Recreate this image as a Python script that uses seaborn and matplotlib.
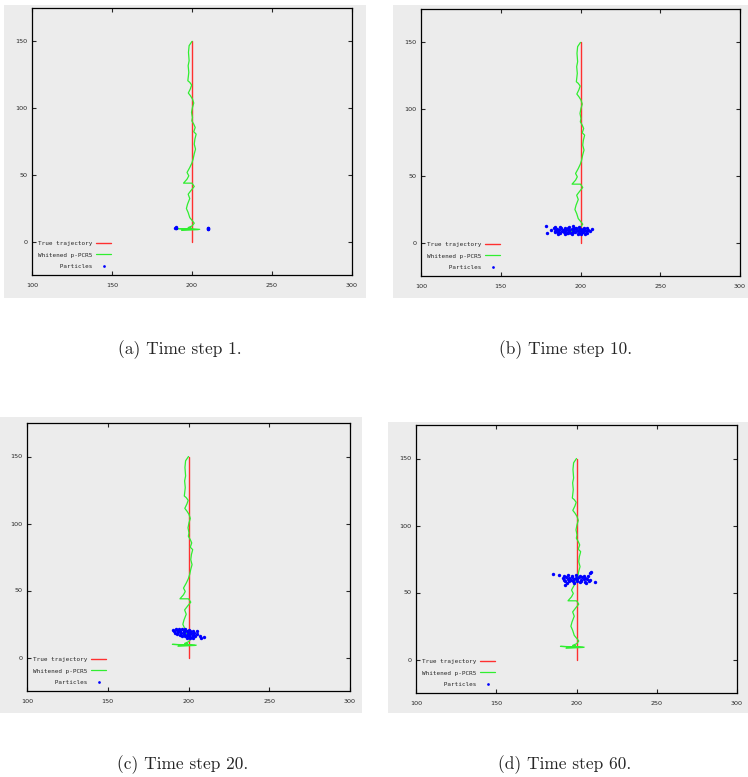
import seaborn as sns
import matplotlib.pyplot as plt
from matplotlib.patches import Rectangle

# true trajectory (straight vertical walk)
true_x = [200, 200]
true_y = [0, 150]

# whitened p-PCR5 estimate, read bottom to top
est_x = [204.8, 190.0, 204.0, 193.5, 199.5, 197.6, 200.1, 201.4, 200.3, 198.6,
         197.6, 196.5, 197.2, 198.6, 197.6, 199.7, 201.4, 200.0, 194.7, 196.9,
         198.0, 196.9, 198.6, 199.9, 200.7, 201.4, 202.2, 201.4, 201.8, 202.6,
         201.1, 202.0, 201.1, 199.9, 200.3, 199.7, 200.3, 201.1, 200.3, 199.0,
         197.7, 199.0, 199.8, 198.6, 197.4, 198.0, 197.6, 198.2, 197.8, 198.2,
         200.0]
est_y = [9.2, 9.8, 9.0, 8.4, 10.2, 10.5, 11.8, 13.8, 15.5, 18.0,
         21.8, 24.8, 28.0, 32.3, 35.5, 38.8, 41.3, 43.8, 43.8, 46.8,
         49.3, 51.8, 55.5, 58.8, 61.8, 65.8, 69.3, 73.0, 76.8, 80.5,
         82.3, 85.5, 88.0, 90.5, 93.0, 96.8, 100.5, 103.8, 106.8, 109.3,
         111.3, 114.5, 117.3, 119.3, 120.5, 126.8, 131.8, 135.5, 141.8, 146.8,
         150.0]

# particles, time step 1
pa_x = [189.6, 190.2, 189.9, 190.3, 209.8, 210.3, 210.0, 209.7]
pa_y = [10.5, 10.0, 10.3, 10.6, 9.6, 10.0, 9.8, 10.1]

# particles, time step 10
pb_x = [178.5, 178.9, 181.4,
        184.0, 187.0, 190.5, 193.0, 196.0, 199.0, 202.0, 195.0,
        183.5, 185.5, 188.0, 190.0, 192.0, 194.5, 197.0, 199.5, 201.5, 204.0,
        184.5, 186.5, 189.0, 191.0, 193.0, 195.5, 198.0, 200.5, 202.5, 205.0, 207.5,
        183.8, 185.8, 188.2, 190.5, 192.8, 195.0, 197.2, 199.2, 201.2, 203.5, 206.0,
        184.2, 187.0, 189.5, 192.0, 194.0, 196.5, 199.0, 201.8, 204.2,
        186.0, 190.0, 194.8, 198.2, 203.0, 200.5, 191.5]
pb_y = [12.3, 7.5, 9.5,
        11.4, 11.7, 11.2, 11.8, 11.3, 11.6, 11.1, 12.1,
        10.6, 10.3, 10.7, 10.4, 10.8, 10.2, 10.6, 10.5, 10.3, 10.7,
        9.5, 9.7, 9.3, 9.6, 9.4, 9.8, 9.5, 9.3, 9.7, 9.4, 9.9,
        8.6, 8.3, 8.7, 8.4, 8.6, 8.2, 8.5, 8.8, 8.3, 8.5, 8.7,
        7.6, 7.3, 7.7, 7.4, 7.5, 7.8, 7.2, 7.6, 7.4,
        6.7, 6.4, 6.8, 6.5, 6.6, 6.2, 6.9]

# particles, time step 20
pc_x = [190.5, 192.0, 194.0, 196.0, 198.0, 200.0,
        191.0, 193.0, 195.0, 197.0, 199.0, 201.0, 203.0, 205.5,
        191.5, 193.5, 195.5, 197.5, 199.5, 201.5, 203.5,
        193.0, 195.0, 197.0, 199.0, 201.0, 203.0, 205.0,
        196.0, 198.0, 200.0, 202.0, 204.0,
        199.0, 201.0, 203.0,
        206.9, 207.7, 209.3]
pc_y = [20.4, 21.2, 21.5, 21.0, 21.4, 20.8,
        19.8, 20.2, 19.6, 20.1, 19.7, 20.0, 19.5, 20.0,
        18.4, 18.8, 18.5, 18.7, 18.3, 18.6, 18.2,
        17.4, 17.0, 17.3, 16.9, 17.2, 16.8, 17.5,
        16.0, 15.7, 16.1, 15.6, 15.9,
        14.8, 14.5, 14.2,
        15.9, 14.2, 15.0]

# particles, time step 60
pd_x = [185.3, 189.0, 192.7, 208.3, 208.9, 211.8,
        192.0, 194.5, 197.0, 199.5, 202.0, 204.5, 207.0,
        191.5, 193.5, 195.5, 197.5, 199.5, 201.5, 203.5, 205.5,
        192.5, 194.5, 196.5, 198.5, 200.5, 202.5, 204.5, 206.5, 208.5,
        193.0, 195.5, 198.0, 200.5, 203.0, 205.5, 207.5,
        194.0, 198.5, 202.0, 206.0]
pd_y = [63.6, 63.1, 55.6, 64.4, 65.4, 57.6,
        62.3, 62.7, 62.4, 62.8, 62.5, 62.2, 62.6,
        61.0, 61.4, 61.1, 61.3, 60.9, 61.2, 61.5, 61.0,
        59.7, 60.0, 59.6, 59.9, 60.1, 59.5, 59.8, 60.0, 59.4,
        58.4, 58.7, 58.3, 58.6, 58.5, 58.2, 58.8,
        57.4, 57.1, 57.5, 57.2]

particles = [(pa_x, pa_y), (pb_x, pb_y), (pc_x, pc_y), (pd_x, pd_y)]
captions = ['(a) Time step 1.', '(b) Time step 10.',
            '(c) Time step 20.', '(d) Time step 60.']
labels = ['True trajectory', 'Whitened p-PCR5', '      Particles']
x_ticks = [100, 150, 200, 250, 300]
y_ticks = [0, 50, 100, 150]

W, H = 748, 777
gray = '#ececec'
# pixel boxes: axes (l, t, r, b), background (l, t, r, b), caption centre
axes_px = [(32, 8, 352, 275), (421, 9, 740, 276),
           (27, 423, 350, 691), (416, 425, 737, 693)]
bg_px = [(4, 5, 366, 298), (393, 5, 748, 298),
         (0, 417, 362, 713), (388, 422, 748, 713)]
cap_px = [(180, 350), (566, 350), (183, 765), (565, 765)]

sns.set_style('ticks', {'axes.facecolor': gray, 'axes.edgecolor': 'black'})
fig = plt.figure(figsize=(W / 100, H / 100), dpi=100)

for i in range(4):
    l, t, r, b = bg_px[i]
    fig.add_artist(Rectangle((l / W, 1 - b / H), (r - l) / W, (b - t) / H,
                             transform=fig.transFigure, facecolor=gray,
                             edgecolor='none', zorder=-1))
    l, t, r, b = axes_px[i]
    ax = fig.add_axes([l / W, 1 - b / H, (r - l) / W, (b - t) / H])

    sns.lineplot(x=true_x, y=true_y, sort=False, estimator=None, color='#ff3030',
                 lw=1.0, ax=ax, label=labels[0])
    sns.lineplot(x=est_x, y=est_y, sort=False, estimator=None, color='#30ee30',
                 lw=0.9, ax=ax, label=labels[1])
    px, py = particles[i]
    sns.scatterplot(x=px, y=py, color='#0000ff', marker='o', s=6, linewidth=0,
                    ax=ax, label=labels[2], zorder=3)

    ax.set_xlim(100, 300)
    ax.set_ylim(-25, 175)
    ax.set_xticks(x_ticks)
    ax.set_yticks(y_ticks)
    ax.tick_params(direction='in', top=True, right=True, length=3, width=0.8,
                   labelsize=4.6)
    ax.tick_params(axis='x', pad=6)
    ax.tick_params(axis='y', pad=3)
    for sp in ax.spines.values():
        sp.set_linewidth(0.9)
        sp.set_color('black')

    ax.legend(loc='lower left', bbox_to_anchor=(0.0, 0.0), markerfirst=False,
              frameon=False, prop={'family': 'DejaVu Sans Mono', 'size': 4.3},
              handlelength=2.6, handletextpad=0.6, labelspacing=1.05,
              borderaxespad=0.6, scatterpoints=1, markerscale=0.8)

    cx, cy = cap_px[i]
    fig.text(cx / W, 1 - cy / H, captions[i], ha='center', va='center',
             fontsize=12.5, family='cmr10')

fig.savefig('out.png', dpi=100)
